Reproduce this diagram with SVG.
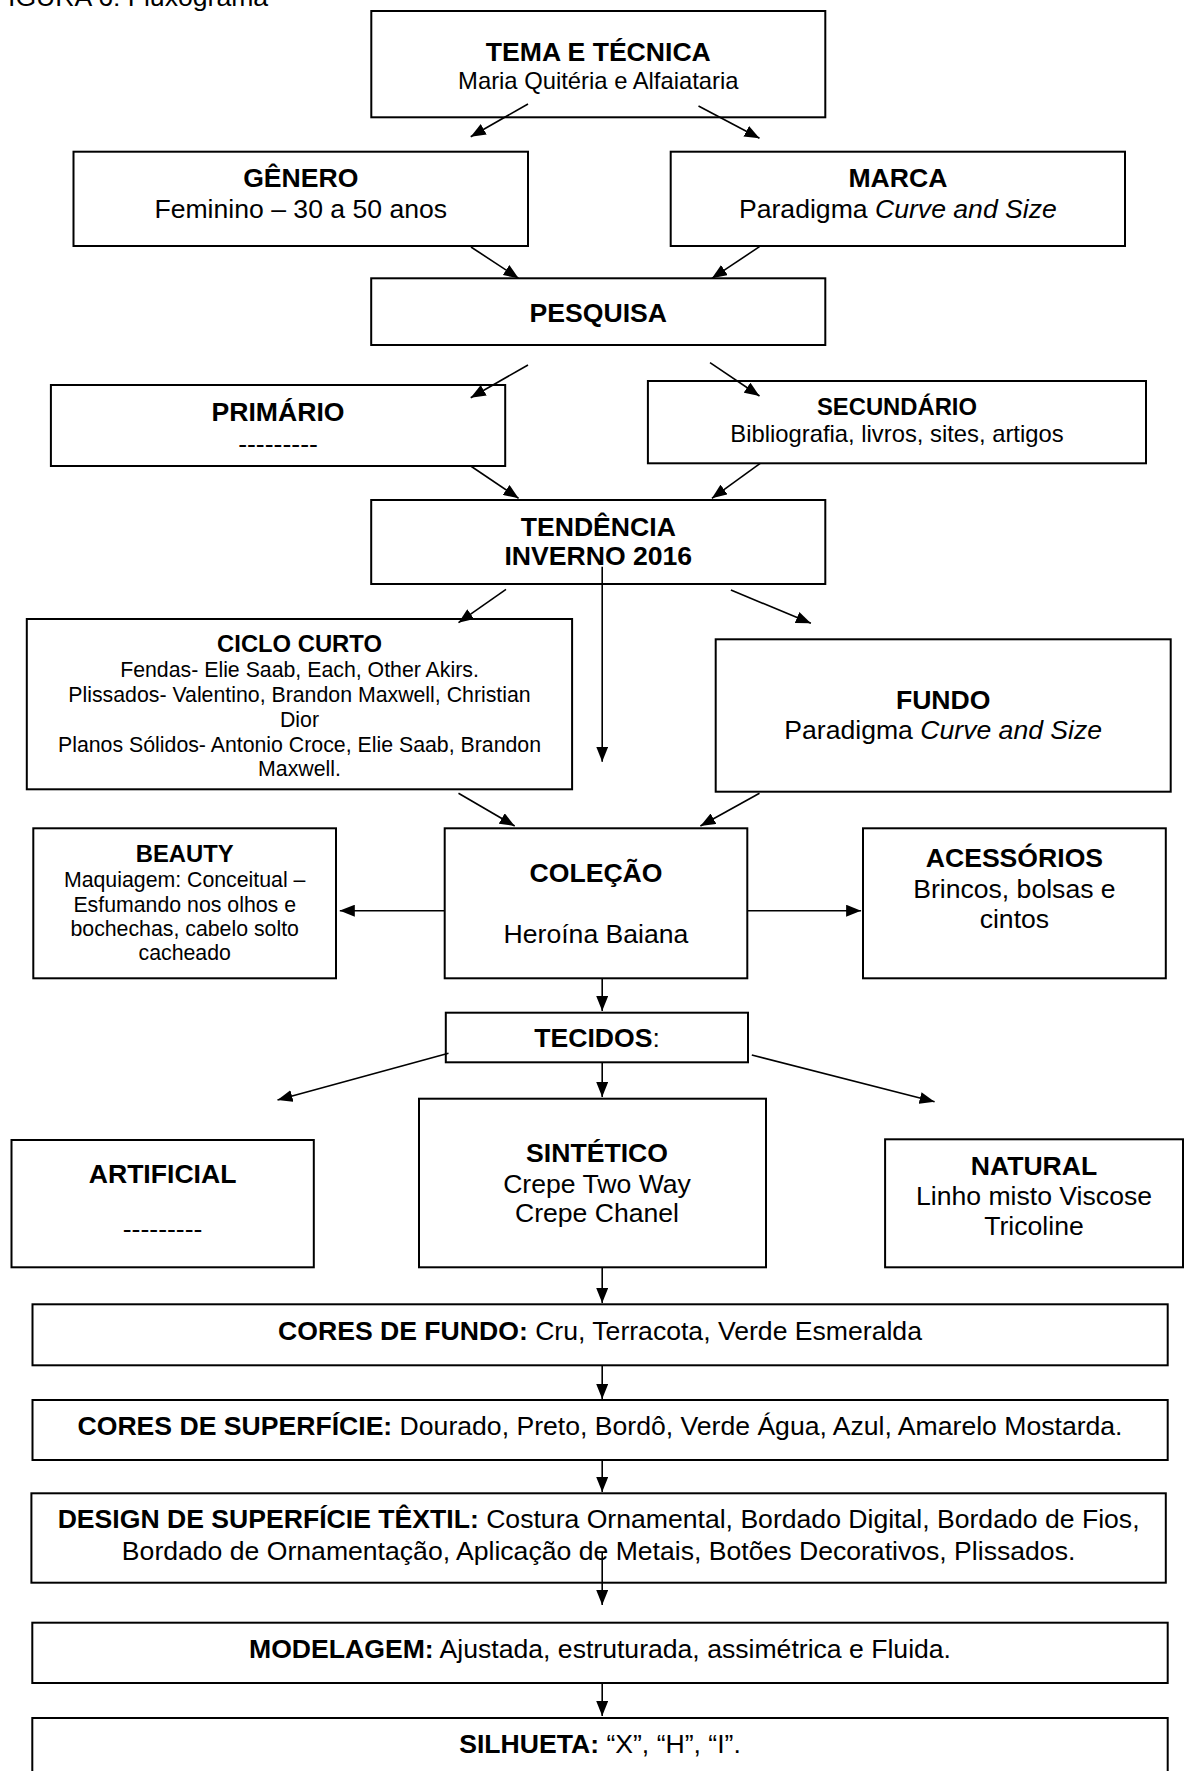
<svg xmlns="http://www.w3.org/2000/svg" width="1187" height="1771" viewBox="0 0 1187 1771">
<style>
rect.box{fill:#fff;stroke:#000;stroke-width:2}
text{font-family:"Liberation Sans",Arial,sans-serif;font-size:26.6px;fill:#000;text-anchor:middle}
.b{font-weight:bold}
.s{font-size:23.8px}
.xs{font-size:21.3px}
.i{font-style:italic}
.c line{stroke:#000;stroke-width:1.6;marker-end:url(#ah)}
</style>
<defs>
<marker id="ah" markerUnits="userSpaceOnUse" markerWidth="15" markerHeight="12" refX="15" refY="6" orient="auto">
<path d="M0,0 L15,6 L0,12 z" fill="#000"/>
</marker>
</defs>
<rect width="1187" height="1771" fill="#fff"/>
<text x="8" y="6" style="text-anchor:start">IGURA 6: Fluxograma</text>

<g id="tema"><rect class="box" x="371.3" y="11" width="454" height="106.3"/>
<text class="b" x="598.3" y="61">TEMA E TÉCNICA</text>
<text class="s" x="598.3" y="89.3">Maria Quitéria e Alfaiataria</text></g>

<g id="genero"><rect class="box" x="73.5" y="151.7" width="454.5" height="94.3"/>
<text class="b" x="300.8" y="186.7">GÊNERO</text>
<text x="300.8" y="218.3">Feminino – 30 a 50 anos</text></g>

<g id="marca"><rect class="box" x="670.7" y="151.7" width="454.3" height="94.3"/>
<text class="b" x="897.9" y="187">MARCA</text>
<text x="897.9" y="218.3">Paradigma <tspan class="i">Curve and Size</tspan></text></g>

<g id="pesquisa"><rect class="box" x="371.2" y="278.3" width="454.1" height="66.7"/>
<text class="b" x="598.3" y="321.7">PESQUISA</text></g>

<g id="primario"><rect class="box" x="50.9" y="385" width="454.3" height="81"/>
<text class="b" x="278" y="420.7">PRIMÁRIO</text>
<text x="278" y="453">---------</text></g>

<g id="secundario"><rect class="box" x="647.9" y="381" width="498.1" height="82.3"/>
<text class="b s" x="897" y="415">SECUNDÁRIO</text>
<text class="s" x="897" y="441.7">Bibliografia, livros, sites, artigos</text></g>

<g id="tendencia"><rect class="box" x="371.2" y="500" width="454.1" height="84"/>
<text class="b" x="598.3" y="536">TENDÊNCIA</text>
<text class="b" x="598.3" y="565">INVERNO 2016</text></g>

<g id="ciclo"><rect class="box" x="26.8" y="619" width="545.3" height="170.3"/>
<text class="b s" x="299.5" y="651.7">CICLO CURTO</text>
<text class="xs" x="299.5" y="676.7">Fendas- Elie Saab, Each, Other Akirs.</text>
<text class="xs" x="299.5" y="701.7">Plissados- Valentino, Brandon Maxwell, Christian</text>
<text class="xs" x="299.5" y="726.7">Dior</text>
<text class="xs" x="299.5" y="751.7">Planos Sólidos- Antonio Croce, Elie Saab, Brandon</text>
<text class="xs" x="299.5" y="776">Maxwell.</text></g>

<g id="fundo"><rect class="box" x="715.7" y="639.3" width="455" height="152.4"/>
<text class="b" x="943.2" y="709.3">FUNDO</text>
<text x="943.2" y="739.3">Paradigma <tspan class="i">Curve and Size</tspan></text></g>

<g id="beauty"><rect class="box" x="33.3" y="828.3" width="302.7" height="150"/>
<text class="b s" x="184.7" y="861.7">BEAUTY</text>
<text class="xs" x="184.7" y="886.7">Maquiagem: Conceitual –</text>
<text class="xs" x="184.7" y="911.7">Esfumando nos olhos e</text>
<text class="xs" x="184.7" y="936">bochechas, cabelo solto</text>
<text class="xs" x="184.7" y="960">cacheado</text></g>

<g id="colecao"><rect class="box" x="444.7" y="828.3" width="302.6" height="150"/>
<text class="b" x="596" y="881.7">COLEÇÃO</text>
<text x="596" y="943.3">Heroína Baiana</text></g>

<g id="acessorios"><rect class="box" x="863" y="828.3" width="302.8" height="150"/>
<text class="b" x="1014.4" y="867.3">ACESSÓRIOS</text>
<text x="1014.4" y="898.3">Brincos, bolsas e</text>
<text x="1014.4" y="928.3">cintos</text></g>

<g id="tecidos"><rect class="box" x="445.8" y="1012.7" width="302.2" height="49.6"/>
<text x="597" y="1047"><tspan class="b">TECIDOS</tspan>:</text></g>

<g id="artificial"><rect class="box" x="11.5" y="1140" width="302.3" height="127.3"/>
<text class="b" x="162.6" y="1183.3">ARTIFICIAL</text>
<text x="162.6" y="1238">---------</text></g>

<g id="sintetico"><rect class="box" x="419" y="1098.7" width="347" height="168.6"/>
<text class="b" x="597" y="1161.7">SINTÉTICO</text>
<text x="597" y="1192.5">Crepe Two Way</text>
<text x="597" y="1222">Crepe Chanel</text></g>

<g id="natural"><rect class="box" x="885.1" y="1139.3" width="297.9" height="128"/>
<text class="b" x="1034" y="1175">NATURAL</text>
<text x="1034" y="1205">Linho misto Viscose</text>
<text x="1034" y="1235">Tricoline</text></g>

<g id="cores-fundo"><rect class="box" x="32.5" y="1304.3" width="1135.2" height="61"/>
<text x="600" y="1340"><tspan class="b">CORES DE FUNDO:</tspan> Cru, Terracota, Verde Esmeralda</text></g>

<g id="cores-superficie"><rect class="box" x="32.5" y="1400" width="1135.2" height="60"/>
<text x="600" y="1435"><tspan class="b">CORES DE SUPERFÍCIE:</tspan> Dourado, Preto, Bordô, Verde Água, Azul, Amarelo Mostarda.</text></g>

<g id="design"><rect class="box" x="31.4" y="1493.3" width="1134.4" height="89.4"/>
<text x="598.6" y="1528.3"><tspan class="b">DESIGN DE SUPERFÍCIE TÊXTIL:</tspan> Costura Ornamental, Bordado Digital, Bordado de Fios,</text>
<text x="598.6" y="1560">Bordado de Ornamentação, Aplicação de Metais, Botões Decorativos, Plissados.</text></g>

<g id="modelagem"><rect class="box" x="32.3" y="1622.7" width="1135.4" height="60.3"/>
<text x="600" y="1658.3"><tspan class="b">MODELAGEM:</tspan> Ajustada, estruturada, assimétrica e Fluida.</text></g>

<g id="silhueta"><rect class="box" x="32.3" y="1718" width="1135.4" height="70"/>
<text x="600" y="1753.3"><tspan class="b">SILHUETA:</tspan> “X”, “H”, “I”.</text></g>

<g id="connectors" class="c">
<line x1="528" y1="104" x2="470.7" y2="136.7"/>
<line x1="698.5" y1="106" x2="759.5" y2="138.3"/>
<line x1="471" y1="247" x2="518.6" y2="278.3"/>
<line x1="759.5" y1="246.7" x2="711.9" y2="278.3"/>
<line x1="528" y1="365" x2="470.7" y2="397.7"/>
<line x1="710" y1="362.7" x2="759.5" y2="396"/>
<line x1="470.7" y1="466" x2="518.6" y2="498.3"/>
<line x1="760.2" y1="463.3" x2="711.9" y2="498.3"/>
<line x1="506" y1="589.3" x2="458.5" y2="622.7"/>
<line x1="602.2" y1="566.7" x2="602.2" y2="761.7"/>
<line x1="730.9" y1="590" x2="810.9" y2="623.3"/>
<line x1="458.5" y1="793.3" x2="514.7" y2="826"/>
<line x1="759.5" y1="793.3" x2="700.4" y2="826"/>
<line x1="444.7" y1="910.7" x2="339.8" y2="910.7"/>
<line x1="747.3" y1="910.7" x2="861.1" y2="910.7"/>
<line x1="602.2" y1="978.3" x2="602.2" y2="1011"/>
<line x1="448.5" y1="1053.3" x2="277.5" y2="1100"/>
<line x1="602.2" y1="1062.3" x2="602.2" y2="1097"/>
<line x1="751.8" y1="1055" x2="934.6" y2="1101.7"/>
<line x1="602.2" y1="1267.3" x2="602.2" y2="1303"/>
<line x1="602.2" y1="1365.3" x2="602.2" y2="1399"/>
<line x1="602.2" y1="1460" x2="602.2" y2="1492"/>
<line x1="602.2" y1="1553" x2="602.2" y2="1605"/>
<line x1="602.2" y1="1683" x2="602.2" y2="1716"/>
</g>
</svg>
